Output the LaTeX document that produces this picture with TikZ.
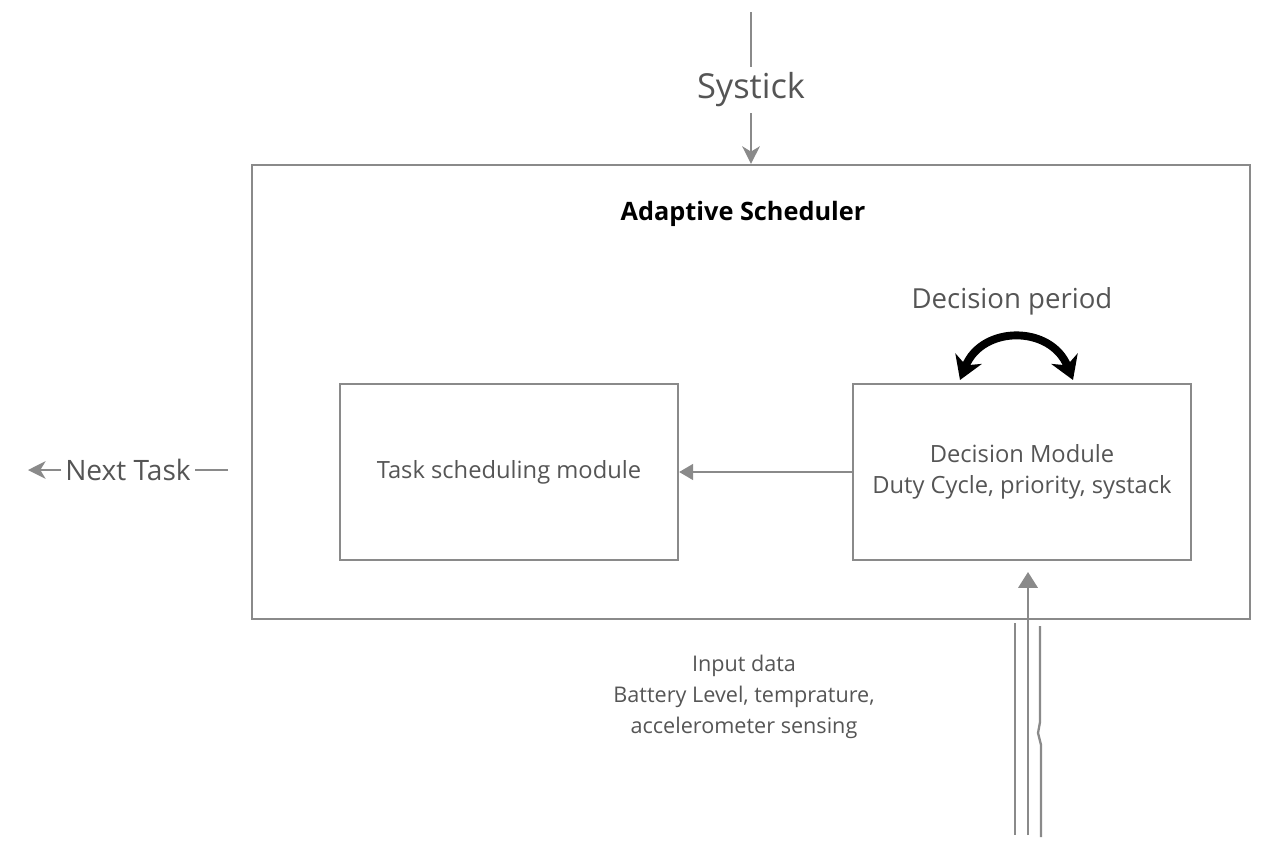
\documentclass[tikz,border=0pt]{standalone}
\usepackage{fontspec}
\setmainfont{Open Sans}
\usetikzlibrary{positioning}
\usetikzlibrary{calc,arrows.meta}
\definecolor{linegray}{HTML}{8A8A8A}
\definecolor{textgray}{HTML}{555555}

\begin{document}
\begin{tikzpicture}[x=0.02cm,y=-0.02cm]
	\tikzset{
  		box/.style= {draw=linegray, line width=1.3pt, text=textgray},
		wire/.style= {draw=linegray, line width=1.3pt},
		label text/.style= {text=textgray, align=center}
		}
	\useasboundingbox (0,0) rectangle (1280,849);

	\path 	(751,392) node [name=scheduler, shape=rectangle, box, minimum width=19.96cm, minimum height=9.08cm] {}
			(743,214) node [name=title, text=black, font=\fontsize{14.4}{17}\selectfont\bfseries] {Adaptive Scheduler}
			(509,472) node [name=task, shape=rectangle, box, minimum width=6.76cm, minimum height=3.52cm, font=\fontsize{13.5}{17}\selectfont] {Task scheduling module}
			(1022,472) node [name=decision, shape=rectangle, box, minimum width=6.76cm, minimum height=3.52cm, align=center, font=\fontsize{13.5}{17.5}\selectfont] {Decision Module\\Duty Cycle, priority, systack}
			(1012,301) node [name=period, label text, font=\fontsize{15.7}{19}\selectfont] {Decision period};

	% systick input
	\path (751,90) node [name=systick, label text, font=\fontsize{19.6}{23}\selectfont] {Systick};
	\coordinate (tickstart) at (751,12);
	\draw [wire] (tickstart) -- (systick.north);
	\draw [wire, -{Stealth[length=10pt, width=10pt, inset=3pt]}] (systick.south) -- (scheduler.north -| systick);

	% output
	\path (128,470) node [name=next, label text, inner sep=2pt, font=\fontsize{16}{19}\selectfont] {Next Task};
	\coordinate (nextend) at (28,470);
	\coordinate (nextstart) at (228,470);
	\draw [wire, -{Stealth[length=10pt, width=10pt, inset=3pt]}] (next.west) -- (nextend);
	\draw [wire] (nextstart) -- (next.east);

	\draw [wire, -{Triangle[length=8pt, width=9pt]}] (decision.west) -- (task.east);

	% decision period
	\coordinate (periodleft) at (960,380);
	\coordinate (periodright) at (1073,380);
	\draw [line width=4.5pt, {Stealth[length=13pt, width=16pt, inset=4pt]}-{Stealth[length=13pt, width=16pt, inset=4pt]}]
		(periodleft) .. controls (982,325) and (1051,325) .. (periodright);

	% input data
	\path (744,697) node [name=input, label text, font=\fontsize{12.3}{17.5}\selectfont] {Input data\\Battery Level, temprature,\\accelerometer sensing};
	\coordinate (inputstart) at (1028,835);
	\coordinate (inputend) at (1028,572);
	\draw [wire, -{Triangle[length=9pt, width=11pt]}] (inputstart) -- (inputend);
	\coordinate (railA) at (1015,623);
	\coordinate (railB) at (1015,835);
	\coordinate (railC) at (1040,626);
	\coordinate (railD) at (1041,837);
	\draw [wire] (railA) -- (railB);
	\draw [wire] (railC) -- (1040,722) -- (1038,733) -- (1041,745) -- (railD);
\end{tikzpicture}
\end{document}
